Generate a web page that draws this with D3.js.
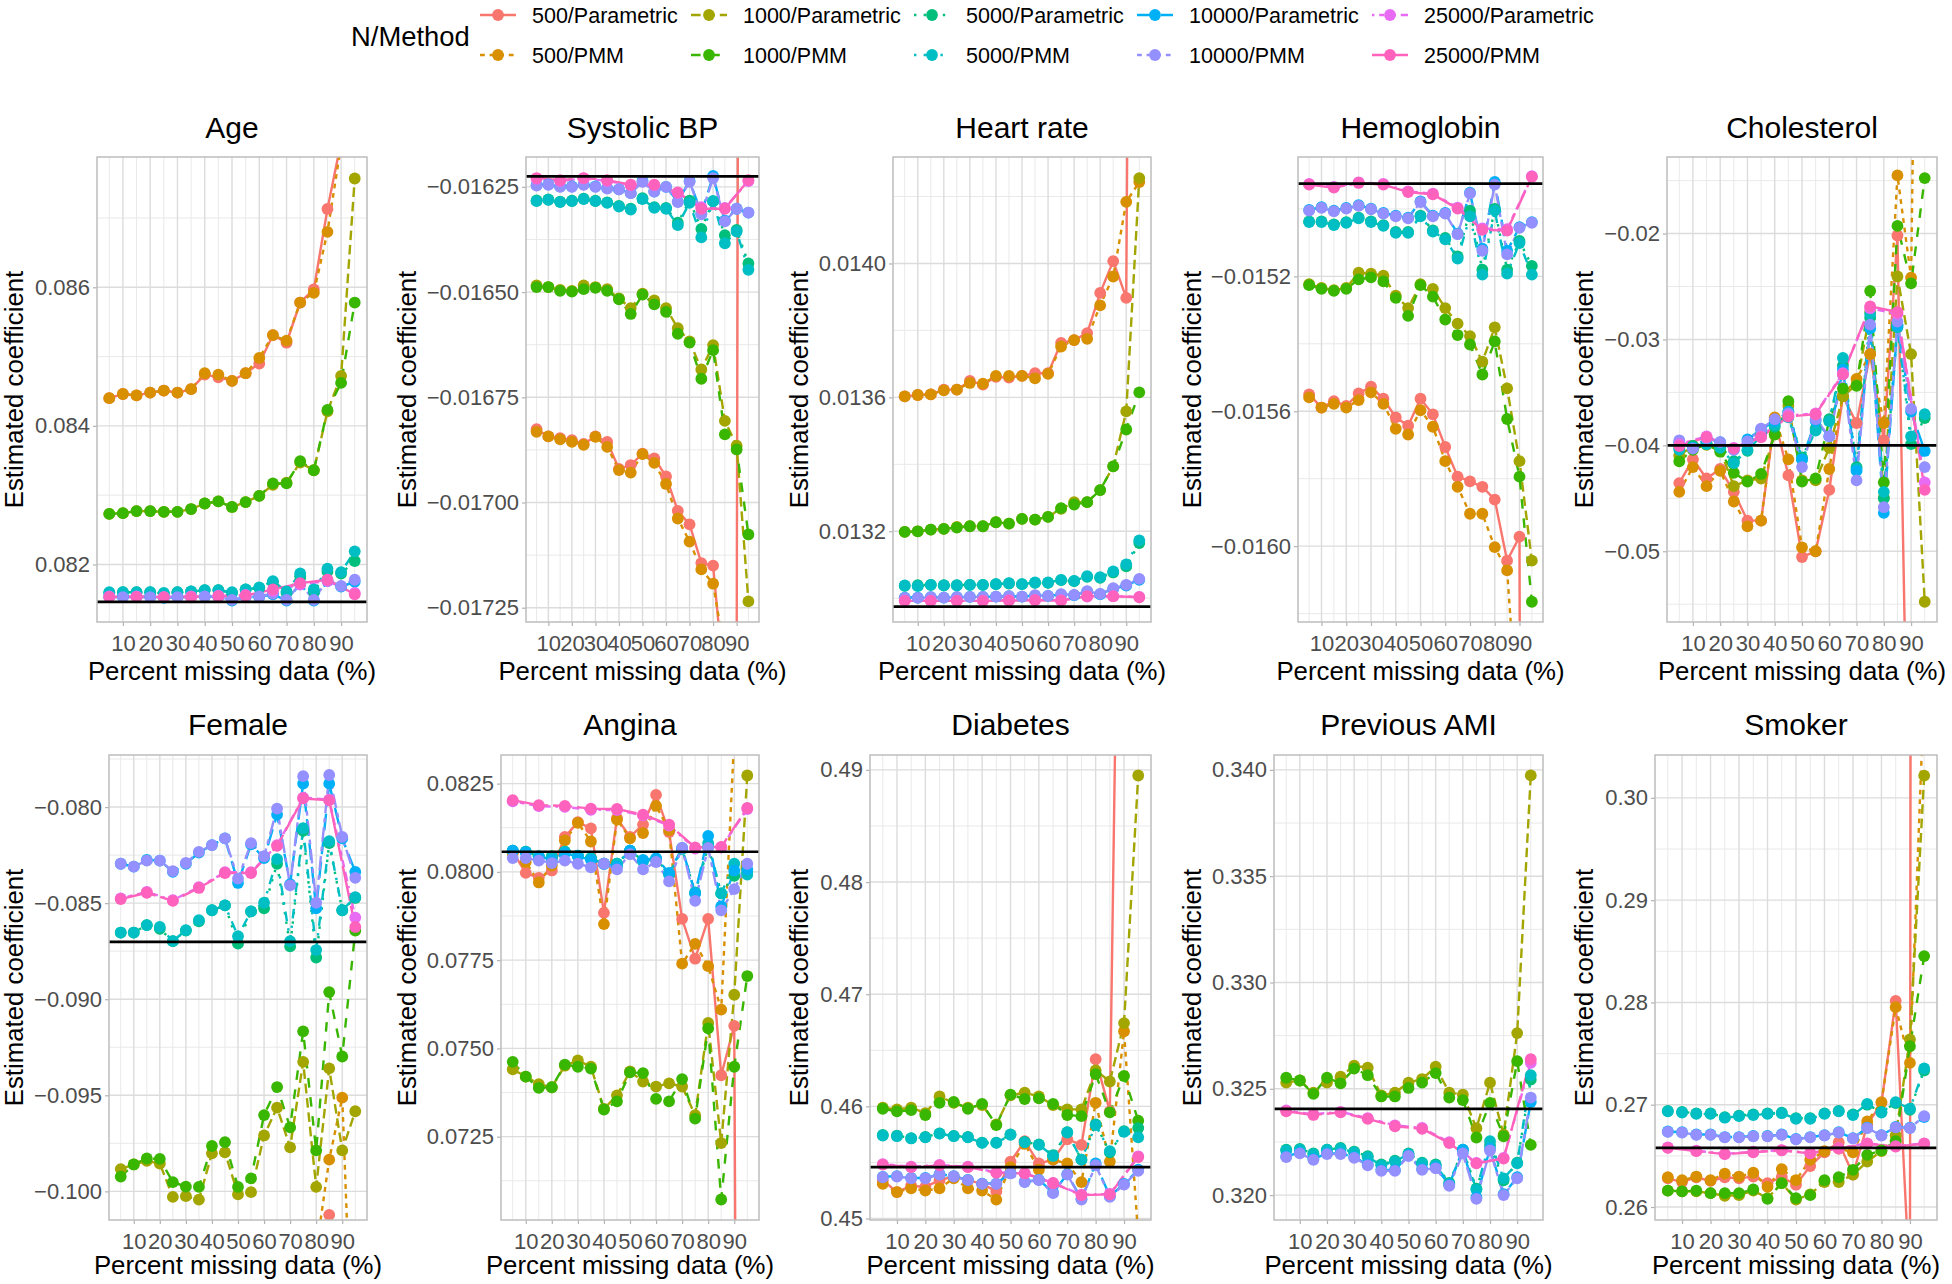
<!DOCTYPE html>
<html><head><meta charset="utf-8">
<script src="https://cdn.jsdelivr.net/npm/d3@7"></script>
<style>body{margin:0;background:#fff}svg{display:block}</style>
</head><body>
<svg id="c" width="1952" height="1284"></svg>
<script>
// ---------------- DATA ----------------
const xValues=[5,10,15,20,25,30,35,40,45,50,55,60,65,70,75,80,85,90,95];
const xTickValues=[10,20,30,40,50,60,70,80,90];
const seriesNames=["500/Parametric","500/PMM","1000/Parametric","1000/PMM","5000/Parametric","5000/PMM","10000/Parametric","10000/PMM","25000/Parametric","25000/PMM"];
const seriesColors=["#F8766D","#D89000","#A3A500","#39B600","#00BF7D","#00BFC4","#00B0F6","#9590FF","#E76BF3","#FF62BC"];
const panelTitles=["Age","Systolic BP","Heart rate","Hemoglobin","Cholesterol","Female","Angina","Diabetes","Previous AMI","Smoker"];
const refValues=[0.08146,-0.016225,0.012975,-0.014925,-0.040,-0.08702,0.08057,0.45458,0.32406,0.26579];
const yLimits=[[0.08117,0.08788],[-0.017284,-0.016179],[0.012929,0.014318],[-0.016225,-0.014846],[-0.05668,-0.01277],
  [-0.10149,-0.07729],[0.07014,0.08331],[0.44987,0.49133],[0.31883,0.34070],[0.25873,0.30419]];
const yTicks=[[0.082,0.084,0.086],[-0.01725,-0.017,-0.01675,-0.0165,-0.01625],[0.0132,0.0136,0.014],[-0.016,-0.0156,-0.0152],[-0.05,-0.04,-0.03,-0.02],
  [-0.1,-0.095,-0.09,-0.085,-0.08],[0.0725,0.075,0.0775,0.08,0.0825],[0.45,0.46,0.47,0.48,0.49],[0.32,0.325,0.33,0.335,0.34],[0.26,0.27,0.28,0.29,0.30]];
const yTickFormats=[".3f",".5f",".4f",".4f",".2f",".3f",".4f",".2f",".3f",".2f"];

const age=[
[0.08440,0.08446,0.08444,0.08448,0.08451,0.08448,0.08453,0.08474,0.08470,0.08465,0.08476,0.08490,0.08531,0.08520,0.08578,0.08597,0.08713,0.08810,0.09050],
[0.08440,0.08446,0.08444,0.08448,0.08451,0.08448,0.08453,0.08476,0.08474,0.08465,0.08476,0.08498,0.08531,0.08523,0.08578,0.08592,0.08680,0.08805,0.09200],
[0.08273,0.08274,0.08277,0.08277,0.08276,0.08276,0.08280,0.08288,0.08291,0.08283,0.08290,0.08299,0.08315,0.08318,0.08347,0.08336,0.08421,0.08472,0.08757],
[0.08273,0.08274,0.08277,0.08277,0.08276,0.08276,0.08280,0.08288,0.08291,0.08283,0.08290,0.08299,0.08317,0.08317,0.08349,0.08336,0.08423,0.08462,0.08578],
[0.08159,0.08160,0.08160,0.08160,0.08158,0.08160,0.08161,0.08163,0.08163,0.08159,0.08164,0.08166,0.08174,0.08159,0.08183,0.08161,0.08190,0.08187,0.08205],
[0.08160,0.08160,0.08160,0.08160,0.08159,0.08160,0.08161,0.08163,0.08163,0.08160,0.08164,0.08167,0.08176,0.08161,0.08187,0.08164,0.08194,0.08189,0.08219],
[0.08153,0.08153,0.08153,0.08153,0.08152,0.08153,0.08153,0.08154,0.08153,0.08148,0.08153,0.08153,0.08157,0.08148,0.08172,0.08148,0.08176,0.08168,0.08175],
[0.08153,0.08153,0.08153,0.08153,0.08153,0.08153,0.08153,0.08154,0.08153,0.08149,0.08153,0.08154,0.08158,0.08149,0.08172,0.08149,0.08178,0.08169,0.08178],
[0.08154,null,0.08154,null,0.08153,null,0.08154,null,0.08155,null,0.08156,null,0.08162,null,0.08171,null,0.08176,null,0.08159],
[0.08153,null,0.08153,null,0.08153,null,0.08153,null,0.08154,null,0.08155,null,0.08164,null,0.08173,null,0.08178,null,0.08157]];

const sbp=[
[-0.016826,-0.016843,-0.016847,-0.016852,-0.016861,-0.016843,-0.016856,-0.016920,-0.016911,-0.016884,-0.016895,-0.016938,-0.017020,-0.017052,-0.017144,-0.017150,-0.017450,-0.017400,-0.005000],
[-0.016832,-0.016843,-0.016850,-0.016856,-0.016863,-0.016844,-0.016868,-0.016923,-0.016929,-0.016885,-0.016906,-0.016956,-0.017038,-0.017093,-0.017159,-0.017193,-0.017360,-0.017600,-0.018000],
[-0.016484,-0.016488,-0.016495,-0.016497,-0.016484,-0.016488,-0.016493,-0.016515,-0.016538,-0.016504,-0.016520,-0.016538,-0.016586,-0.016617,-0.016684,-0.016626,-0.016806,-0.016865,-0.017235],
[-0.016488,-0.016488,-0.016497,-0.016499,-0.016493,-0.016490,-0.016497,-0.016517,-0.016552,-0.016506,-0.016529,-0.016547,-0.016599,-0.016620,-0.016706,-0.016638,-0.016838,-0.016874,-0.017076],
[-0.016282,-0.016280,-0.016285,-0.016283,-0.016278,-0.016283,-0.016287,-0.016295,-0.016302,-0.016277,-0.016298,-0.016300,-0.016335,-0.016283,-0.016350,-0.016284,-0.016365,-0.016352,-0.016432],
[-0.016284,-0.016281,-0.016286,-0.016284,-0.016279,-0.016284,-0.016288,-0.016297,-0.016304,-0.016279,-0.016300,-0.016302,-0.016341,-0.016288,-0.016370,-0.016284,-0.016384,-0.016356,-0.016447],
[-0.016246,-0.016244,-0.016249,-0.016249,-0.016244,-0.016249,-0.016253,-0.016256,-0.016265,-0.016236,-0.016261,-0.016250,-0.016285,-0.016236,-0.016313,-0.016224,-0.016330,-0.016302,-0.016311],
[-0.016247,-0.016245,-0.016250,-0.016250,-0.016245,-0.016250,-0.016254,-0.016256,-0.016265,-0.016238,-0.016261,-0.016250,-0.016286,-0.016238,-0.016315,-0.016229,-0.016332,-0.016302,-0.016311],
[-0.016231,null,-0.016236,null,-0.016230,null,-0.016236,null,-0.016246,null,-0.016246,null,-0.016265,null,-0.016298,null,-0.016300,null,-0.016236],
[-0.016229,null,-0.016234,null,-0.016229,null,-0.016234,null,-0.016245,null,-0.016245,null,-0.016263,null,-0.016302,null,-0.016302,null,-0.016234]];

const hr=[
[0.013603,0.013607,0.013609,0.013623,0.013623,0.013649,0.013638,0.013661,0.013659,0.013664,0.013672,0.013672,0.013763,0.013771,0.013792,0.013912,0.014007,0.013897,0.020000],
[0.013603,0.013607,0.013609,0.013621,0.013623,0.013643,0.013641,0.013664,0.013664,0.013664,0.013657,0.013670,0.013752,0.013771,0.013775,0.013875,0.013961,0.014184,0.014243],
[0.013198,0.013200,0.013205,0.013207,0.013213,0.013215,0.013215,0.013227,0.013223,0.013237,0.013235,0.013243,0.013267,0.013287,0.013287,0.013323,0.013394,0.013558,0.014255],
[0.013198,0.013200,0.013205,0.013207,0.013211,0.013215,0.013215,0.013227,0.013223,0.013237,0.013235,0.013243,0.013269,0.013280,0.013287,0.013323,0.013394,0.013504,0.013615],
[0.013037,0.013039,0.013040,0.013039,0.013039,0.013040,0.013040,0.013042,0.013044,0.013042,0.013046,0.013046,0.013054,0.013051,0.013064,0.013061,0.013077,0.013095,0.013165],
[0.013038,0.013036,0.013040,0.013038,0.013038,0.013040,0.013040,0.013042,0.013045,0.013042,0.013047,0.013047,0.013055,0.013052,0.013066,0.013063,0.013080,0.013101,0.013173],
[0.013002,0.013002,0.013003,0.013002,0.013003,0.013004,0.013004,0.013005,0.013006,0.013005,0.013008,0.013007,0.013011,0.013009,0.013020,0.013012,0.013028,0.013038,0.013055],
[0.013001,0.013001,0.013003,0.013002,0.013003,0.013004,0.013004,0.013005,0.013006,0.013005,0.013009,0.013007,0.013012,0.013010,0.013021,0.013013,0.013030,0.013040,0.013058],
[0.012993,null,0.012993,null,0.012993,null,0.012993,null,0.012994,null,0.012995,null,0.012994,null,0.013005,null,0.013006,null,0.013004],
[0.012992,null,0.012992,null,0.012992,null,0.012992,null,0.012993,null,0.012994,null,0.012993,null,0.013006,null,0.013006,null,0.013003]];

const hgb=[
[-0.015550,-0.015589,-0.015570,-0.015584,-0.015547,-0.015527,-0.015563,-0.015618,-0.015643,-0.015563,-0.015609,-0.015706,-0.015794,-0.015808,-0.015824,-0.015862,-0.016043,-0.015972,-0.030000],
[-0.015559,-0.015589,-0.015578,-0.015589,-0.015567,-0.015544,-0.015578,-0.015652,-0.015669,-0.015597,-0.015646,-0.015748,-0.015824,-0.015904,-0.015904,-0.016003,-0.016072,-0.016600,-0.017000],
[-0.015223,-0.015234,-0.015241,-0.015234,-0.015189,-0.015192,-0.015198,-0.015257,-0.015294,-0.015223,-0.015237,-0.015294,-0.015340,-0.015377,-0.015453,-0.015351,-0.015532,-0.015748,-0.016043],
[-0.015226,-0.015237,-0.015243,-0.015237,-0.015209,-0.015203,-0.015215,-0.015264,-0.015317,-0.015226,-0.015260,-0.015328,-0.015374,-0.015402,-0.015491,-0.015393,-0.015623,-0.015794,-0.016165],
[-0.015037,-0.015037,-0.015046,-0.015039,-0.015026,-0.015037,-0.015048,-0.015068,-0.015068,-0.015020,-0.015064,-0.015086,-0.015141,-0.015005,-0.015180,-0.015000,-0.015180,-0.015095,-0.015169],
[-0.015039,-0.015039,-0.015048,-0.015041,-0.015028,-0.015039,-0.015050,-0.015071,-0.015071,-0.015022,-0.015067,-0.015090,-0.015147,-0.015022,-0.015195,-0.015005,-0.015192,-0.015101,-0.015195],
[-0.015003,-0.014995,-0.015005,-0.014997,-0.014989,-0.014999,-0.015012,-0.015020,-0.015026,-0.014978,-0.015020,-0.015012,-0.015073,-0.014952,-0.015118,-0.014920,-0.015124,-0.015054,-0.015039],
[-0.015005,-0.014997,-0.015007,-0.014999,-0.014991,-0.015001,-0.015014,-0.015022,-0.015028,-0.014980,-0.015022,-0.015014,-0.015075,-0.014954,-0.015124,-0.014928,-0.015135,-0.015056,-0.015041],
[-0.014926,null,-0.014935,null,-0.014921,null,-0.014926,null,-0.014948,null,-0.014955,null,-0.014996,null,-0.015058,null,-0.015060,null,-0.014903],
[-0.014928,null,-0.014937,null,-0.014923,null,-0.014928,null,-0.014950,null,-0.014957,null,-0.014999,null,-0.015062,null,-0.015064,null,-0.014905]];

const chol=[
[-0.04356,-0.04132,-0.04313,-0.04223,-0.04439,-0.04711,-0.04711,-0.03753,-0.04284,-0.05054,-0.05000,-0.04421,-0.03536,-0.03789,-0.03138,-0.03950,-0.02018,-0.09000,-0.10000],
[-0.04439,-0.04205,-0.04385,-0.04241,-0.04530,-0.04765,-0.04711,-0.03735,-0.04132,-0.04963,-0.05000,-0.04223,-0.03536,-0.03373,-0.03138,-0.03789,-0.01451,-0.02416,0.07000],
[-0.04096,-0.04006,-0.03995,-0.04042,-0.04385,-0.04331,-0.04313,-0.03897,-0.03626,-0.04331,-0.04331,-0.04024,-0.03536,-0.03428,-0.02741,-0.04494,-0.02405,-0.03138,-0.05477],
[-0.04150,-0.04042,-0.03988,-0.04060,-0.04259,-0.04342,-0.04270,-0.03897,-0.03583,-0.04342,-0.04313,-0.03764,-0.03464,-0.03438,-0.02542,-0.04349,-0.01928,-0.02470,-0.01476],
[-0.04024,-0.04006,-0.03988,-0.04006,-0.04150,-0.04052,-0.03897,-0.03825,-0.03681,-0.04114,-0.03843,-0.03753,-0.03247,-0.04205,-0.02795,-0.04500,-0.02860,-0.03988,-0.03742],
[-0.04042,-0.04024,-0.03988,-0.04024,-0.04168,-0.04042,-0.03915,-0.03807,-0.03735,-0.04132,-0.03861,-0.03771,-0.03175,-0.04223,-0.02759,-0.04439,-0.02885,-0.03915,-0.03706],
[-0.03970,-0.04024,-0.03933,-0.03970,-0.04042,-0.03944,-0.03850,-0.03771,-0.03681,-0.04132,-0.03771,-0.03915,-0.03283,-0.04241,-0.02896,-0.04638,-0.02867,-0.03681,-0.04053],
[-0.03952,-0.04031,-0.03933,-0.03970,-0.04042,-0.03962,-0.03843,-0.03753,-0.03699,-0.04205,-0.03753,-0.03915,-0.03330,-0.04331,-0.02860,-0.04584,-0.02831,-0.03655,-0.04205],
[-0.03988,null,-0.03915,null,-0.04024,null,-0.03915,null,-0.03717,null,-0.03699,null,-0.03319,null,-0.02705,null,-0.02759,null,-0.04349],
[-0.04006,null,-0.03923,null,-0.04031,null,-0.03923,null,-0.03728,null,-0.03706,null,-0.03330,null,-0.02687,null,-0.02741,null,-0.04421]];

const female=[
[-0.1080,-0.1075,-0.1082,-0.1085,-0.1078,-0.1090,-0.1088,-0.1070,-0.1072,-0.1095,-0.1085,-0.1065,-0.1060,-0.1068,-0.1050,-0.1040,-0.10122,-0.1035,-0.1060],
[-0.1078,-0.1072,-0.1080,-0.1083,-0.1076,-0.1088,-0.1085,-0.1068,-0.1070,-0.1092,-0.1082,-0.1062,-0.1058,-0.1065,-0.1048,-0.1031,-0.09835,-0.09512,-0.1130],
[-0.09884,-0.09860,-0.09841,-0.09855,-0.10029,-0.10025,-0.10043,-0.09802,-0.09797,-0.10016,-0.10004,-0.09709,-0.09564,-0.09771,-0.09326,-0.09977,-0.09360,-0.09787,-0.09583],
[-0.09923,-0.09860,-0.09829,-0.09831,-0.09952,-0.09975,-0.09977,-0.09764,-0.09744,-0.09977,-0.09932,-0.09603,-0.09457,-0.09667,-0.09167,-0.09787,-0.08963,-0.09298,-0.08643],
[-0.08653,-0.08653,-0.08614,-0.08634,-0.08698,-0.08643,-0.08595,-0.08537,-0.08512,-0.08711,-0.08543,-0.08527,-0.08295,-0.08725,-0.08124,-0.08783,-0.08188,-0.08537,-0.08473],
[-0.08653,-0.08653,-0.08614,-0.08624,-0.08698,-0.08640,-0.08589,-0.08537,-0.08512,-0.08672,-0.08543,-0.08498,-0.08271,-0.08698,-0.08110,-0.08744,-0.08178,-0.08537,-0.08469],
[-0.08295,-0.08310,-0.08275,-0.08279,-0.08337,-0.08295,-0.08237,-0.08198,-0.08163,-0.08395,-0.08194,-0.08266,-0.08039,-0.08401,-0.07878,-0.08527,-0.07878,-0.08163,-0.08337],
[-0.08295,-0.08310,-0.08279,-0.08279,-0.08333,-0.08291,-0.08233,-0.08198,-0.08163,-0.08372,-0.08188,-0.08256,-0.08008,-0.08407,-0.07839,-0.08498,-0.07833,-0.08155,-0.08368],
[-0.08475,null,-0.08442,null,-0.08484,null,-0.08417,null,-0.08339,null,-0.08339,null,-0.08198,null,-0.07951,null,-0.07961,null,-0.08575],
[-0.08479,null,-0.08446,null,-0.08488,null,-0.08421,null,-0.08343,null,-0.08343,null,-0.08202,null,-0.07955,null,-0.07965,null,-0.08624]];

const angina=[
[0.08057,0.07997,0.07983,0.08004,0.08099,0.08141,0.08123,0.07884,0.08152,0.08099,0.08134,0.08218,0.08113,0.07867,0.07754,0.07867,0.07424,0.07564,0.00000],
[0.08053,0.08028,0.07970,0.08018,0.08089,0.08139,0.08086,0.07852,0.08148,0.08095,0.08110,0.08187,0.08118,0.07740,0.07796,0.07733,0.07610,0.08380,0.09000],
[0.07441,0.07420,0.07399,0.07390,0.07451,0.07466,0.07448,0.07329,0.07367,0.07435,0.07406,0.07392,0.07401,0.07392,0.07311,0.07572,0.07232,0.07652,0.08273],
[0.07462,0.07420,0.07388,0.07390,0.07454,0.07448,0.07443,0.07327,0.07350,0.07432,0.07430,0.07357,0.07350,0.07413,0.07301,0.07557,0.07072,0.07448,0.07705],
[0.08060,0.08057,0.08044,0.08044,0.08057,0.08046,0.08039,0.08023,0.08023,0.08060,0.08032,0.08037,0.07994,0.08065,0.07941,0.08071,0.07939,0.07989,0.08000],
[0.08060,0.08057,0.08044,0.08044,0.08057,0.08046,0.08039,0.08023,0.08023,0.08060,0.08030,0.08035,0.07992,0.08065,0.07941,0.08081,0.07939,0.08023,0.07992],
[0.08060,0.08055,0.08044,0.08034,0.08053,0.08044,0.08034,0.08023,0.08015,0.08060,0.08034,0.08039,0.07997,0.08068,0.07939,0.08102,0.07902,0.08004,0.08007],
[0.08039,0.08039,0.08032,0.08025,0.08032,0.08023,0.08013,0.08023,0.08007,0.08050,0.08007,0.08028,0.07973,0.08068,0.07918,0.08068,0.07891,0.07951,0.08023],
[0.08200,null,0.08186,null,0.08184,null,0.08176,null,0.08175,null,0.08160,null,0.08131,null,0.08066,null,0.08069,null,0.08178],
[0.08203,null,0.08189,null,0.08187,null,0.08179,null,0.08178,null,0.08162,null,0.08134,null,0.08069,null,0.08071,null,0.08181]];

const diabetes=[
[0.45342,0.45236,0.45292,0.45282,0.45342,0.45375,0.45342,0.45309,0.45242,0.45508,0.45690,0.45491,0.45525,0.45707,0.45657,0.46421,0.45956,0.54800,0.60000],
[0.45309,0.45236,0.45269,0.45249,0.45269,0.45359,0.45269,0.45249,0.45169,0.45458,0.45667,0.45435,0.45525,0.45491,0.45325,0.46032,0.45508,0.46670,0.44840],
[0.45989,0.45973,0.45989,0.45940,0.46089,0.46032,0.45989,0.46012,0.45840,0.46099,0.46122,0.46089,0.46012,0.45973,0.45973,0.46321,0.46222,0.46743,0.48950],
[0.45979,0.45956,0.45966,0.45923,0.46032,0.46039,0.45979,0.46022,0.45833,0.46105,0.46066,0.46072,0.46022,0.45923,0.45913,0.46288,0.45946,0.46271,0.45873],
[0.45745,0.45740,0.45717,0.45727,0.45760,0.45737,0.45727,0.45677,0.45677,0.45750,0.45683,0.45660,0.45565,0.45770,0.45525,0.45840,0.45591,0.45780,0.45807],
[0.45740,0.45734,0.45714,0.45724,0.45757,0.45734,0.45724,0.45674,0.45674,0.45747,0.45680,0.45657,0.45558,0.45767,0.45525,0.45833,0.45601,0.45773,0.45724],
[0.45372,0.45378,0.45362,0.45362,0.45395,0.45378,0.45345,0.45312,0.45312,0.45405,0.45328,0.45345,0.45232,0.45395,0.45175,0.45491,0.45199,0.45309,0.45435],
[0.45368,0.45375,0.45359,0.45359,0.45392,0.45375,0.45342,0.45309,0.45309,0.45402,0.45325,0.45342,0.45226,0.45392,0.45169,0.45475,0.45193,0.45302,0.45425],
[0.45485,null,0.45462,null,0.45478,null,0.45462,null,0.45412,null,0.45405,null,0.45318,null,0.45212,null,0.45219,null,0.45555],
[0.45481,null,0.45458,null,0.45474,null,0.45458,null,0.45408,null,0.45402,null,0.45315,null,0.45209,null,0.45216,null,0.45548]];

const prevAmi=[
[0.3455,0.3460,0.3452,0.3458,0.3462,0.3450,0.3456,0.3465,0.3470,0.3458,0.3462,0.3475,0.3480,0.3490,0.3500,0.3510,0.3530,0.3550,0.3600],
[0.3450,0.3455,0.3448,0.3452,0.3458,0.3446,0.3452,0.3460,0.3466,0.3454,0.3458,0.3470,0.3476,0.3486,0.3495,0.3505,0.3525,0.3545,0.3580],
[0.32529,0.32539,0.32482,0.32529,0.32557,0.32609,0.32599,0.32469,0.32482,0.32529,0.32546,0.32604,0.32482,0.32473,0.32315,0.32529,0.32284,0.32762,0.33974],
[0.32552,0.32539,0.32476,0.32552,0.32526,0.32595,0.32564,0.32464,0.32464,0.32504,0.32529,0.32574,0.32459,0.32447,0.32271,0.32434,0.32277,0.32630,0.32236],
[0.32214,0.32217,0.32196,0.32214,0.32222,0.32205,0.32183,0.32144,0.32162,0.32196,0.32153,0.32144,0.32058,0.32214,0.32030,0.32236,0.32070,0.32153,0.32543],
[0.32210,0.32214,0.32193,0.32214,0.32219,0.32201,0.32179,0.32140,0.32158,0.32193,0.32149,0.32140,0.32053,0.32210,0.32026,0.32254,0.32079,0.32149,0.32564],
[0.32182,0.32200,0.32170,0.32196,0.32196,0.32179,0.32144,0.32118,0.32118,0.32188,0.32123,0.32130,0.32049,0.32214,0.31990,0.32218,0.32005,0.32084,0.32438],
[0.32179,0.32196,0.32166,0.32193,0.32193,0.32175,0.32140,0.32114,0.32114,0.32184,0.32119,0.32126,0.32044,0.32196,0.31982,0.32210,0.32000,0.32079,0.32459],
[0.32398,null,0.32380,null,0.32392,null,0.32362,null,0.32328,null,0.32316,null,0.32249,null,0.32152,null,0.32175,null,0.32622],
[0.32394,null,0.32377,null,0.32389,null,0.32359,null,0.32324,null,0.32312,null,0.32245,null,0.32149,null,0.32172,null,0.32639]];

const smoker=[
[0.26280,0.26244,0.26291,0.26255,0.26291,0.26280,0.26298,0.26233,0.26291,0.26218,0.26400,0.26535,0.26633,0.26317,0.26801,0.27019,0.28016,0.25200,1.50000],
[0.26291,0.26262,0.26298,0.26262,0.26327,0.26298,0.26335,0.26197,0.26371,0.26262,0.26462,0.26546,0.26571,0.26535,0.26837,0.27026,0.27954,0.27409,0.31070],
[0.26160,0.26153,0.26153,0.26135,0.26109,0.26116,0.26160,0.26087,0.26233,0.26073,0.26124,0.26244,0.26244,0.26317,0.26444,0.26546,0.26699,0.27638,0.30218],
[0.26160,0.26153,0.26160,0.26135,0.26135,0.26135,0.26171,0.26080,0.26233,0.26087,0.26116,0.26262,0.26291,0.26364,0.26510,0.26553,0.26644,0.27572,0.28453],
[0.26940,0.26930,0.26915,0.26915,0.26878,0.26893,0.26905,0.26915,0.26922,0.26868,0.26868,0.26915,0.26940,0.26905,0.27000,0.26930,0.27015,0.26950,0.27335],
[0.26935,0.26924,0.26910,0.26910,0.26873,0.26888,0.26899,0.26910,0.26917,0.26863,0.26863,0.26910,0.26935,0.26899,0.27008,0.26924,0.27026,0.26961,0.27354],
[0.26738,0.26731,0.26709,0.26709,0.26684,0.26684,0.26694,0.26694,0.26709,0.26665,0.26684,0.26702,0.26731,0.26673,0.26775,0.26702,0.26782,0.26775,0.26880],
[0.26735,0.26728,0.26706,0.26706,0.26681,0.26681,0.26691,0.26691,0.26706,0.26662,0.26681,0.26699,0.26728,0.26670,0.26772,0.26699,0.26779,0.26772,0.26888],
[0.26582,null,0.26550,null,0.26520,null,0.26540,null,0.26557,null,0.26528,null,0.26575,null,0.26622,null,0.26594,null,0.26622],
[0.26579,null,0.26546,null,0.26517,null,0.26535,null,0.26553,null,0.26524,null,0.26571,null,0.26619,null,0.26590,null,0.26619]];

const panelData=[age,sbp,hr,hgb,chol,female,angina,diabetes,prevAmi,smoker];

// ---------------- LAYOUT / STYLE ----------------
const FONT='"Liberation Sans", Arial, Helvetica, sans-serif';
const LW=2.4;
const dashes=[null,"4.8,4.8","9.6,4.8","9.6,9.6","2.4,7.2","2.4,7.2,9.6,7.2","16.8,7.2","4.8,4.8,14.4,4.8","2.4,4.8,4.8,4.8,7.2,4.8,9.6,4.8","36,4.8,19.2,4.8"];
const layout=[
 {x0:97,x1:367,row:0},{x0:526,x1:759,row:0},{x0:893,x1:1151,row:0},{x0:1298,x1:1543,row:0},{x0:1667,x1:1937,row:0},
 {x0:109,x1:367,row:1},{x0:501,x1:759,row:1},{x0:870,x1:1151,row:1},{x0:1274,x1:1543,row:1},{x0:1655,x1:1937,row:1}];
const rows=[{y0:157,y1:622,title:137.5,axt:680},{y0:755,y1:1220,title:734.5,axt:1274}];
const colLeft=[0,393,785,1178,1570];
const xDomain=[0.5,99.5];
const PR=5.9;
const TICKFS=22;

const svg=d3.select('#c');
svg.append('rect').attr('width',1952).attr('height',1284).attr('fill','#fff');
const defs=svg.append('defs');

function txt(parent,x,y,str,size,anchor,fill){
  return parent.append('text').attr('x',x).attr('y',y)
    .attr('text-anchor',anchor).attr('font-size',size).attr('font-family',FONT).attr('fill',fill).text(str);
}

panelData.forEach((data,i)=>{
  const L=layout[i], R=rows[L.row], col=i%5;
  const x=d3.scaleLinear().domain(xDomain).range([L.x0,L.x1]);
  const y=d3.scaleLinear().domain(yLimits[i]).range([R.y1,R.y0]);
  const g=svg.append('g');
  const cid='clip'+i;
  defs.append('clipPath').attr('id',cid).append('rect')
    .attr('x',L.x0).attr('y',R.y0).attr('width',L.x1-L.x0).attr('height',R.y1-R.y0);

  // grid
  const tks=yTicks[i], step=tks[1]-tks[0];
  const yMinor=[];
  for(let k=-1;k<tks.length;k++){const v=tks[0]+(k+0.5)*step; if(v>yLimits[i][0]&&v<yLimits[i][1]) yMinor.push(v);}
  const xMinor=[5,15,25,35,45,55,65,75,85,95];
  const grid=g.append('g');
  yMinor.forEach(v=>grid.append('line').attr('x1',L.x0).attr('x2',L.x1).attr('y1',y(v)).attr('y2',y(v)).attr('stroke','#E6E6E6').attr('stroke-width',0.9));
  xMinor.forEach(v=>grid.append('line').attr('y1',R.y0).attr('y2',R.y1).attr('x1',x(v)).attr('x2',x(v)).attr('stroke','#E6E6E6').attr('stroke-width',0.9));
  tks.forEach(v=>grid.append('line').attr('x1',L.x0).attr('x2',L.x1).attr('y1',y(v)).attr('y2',y(v)).attr('stroke','#DCDCDC').attr('stroke-width',1.4));
  xTickValues.forEach(v=>grid.append('line').attr('y1',R.y0).attr('y2',R.y1).attr('x1',x(v)).attr('x2',x(v)).attr('stroke','#DCDCDC').attr('stroke-width',1.4));

  // axes
  const ay=d3.axisLeft(y).tickValues(tks).tickFormat(d3.format(yTickFormats[i])).tickSize(4).tickPadding(3);
  const gy=g.append('g').attr('transform',`translate(${L.x0},0)`).call(ay);
  gy.select('.domain').remove();
  gy.selectAll('line').attr('stroke','#B3B3B3').attr('stroke-width',1.2);
  gy.selectAll('text').attr('font-size',TICKFS).attr('font-family',FONT).attr('fill','#4D4D4D');
  const ax=d3.axisBottom(x).tickValues(xTickValues).tickFormat(d3.format('d')).tickSize(4).tickPadding(9);
  const gx=g.append('g').attr('transform',`translate(0,${R.y1})`).call(ax);
  gx.select('.domain').remove();
  gx.selectAll('line').attr('stroke','#B3B3B3').attr('stroke-width',1.2);
  gx.selectAll('text').attr('font-size',TICKFS).attr('font-family',FONT).attr('fill','#4D4D4D');

  // series
  const plot=g.append('g').attr('clip-path',`url(#${cid})`);
  const lineGen=d3.line().x(d=>x(d[0])).y(d=>y(d[1]));
  data.forEach((vals,s)=>{
    const pts=xValues.map((xv,j)=>[xv,vals[j]]).filter(d=>d[1]!==null);
    const p=plot.append('path').attr('d',lineGen(pts)).attr('fill','none')
      .attr('stroke',seriesColors[s]).attr('stroke-width',LW);
    if(dashes[s]) p.attr('stroke-dasharray',dashes[s]);
  });
  data.forEach((vals,s)=>{
    const pts=xValues.map((xv,j)=>[xv,vals[j]]).filter(d=>d[1]!==null);
    plot.selectAll(null).data(pts).enter().append('circle')
      .attr('cx',d=>x(d[0])).attr('cy',d=>y(d[1])).attr('r',PR)
      .attr('fill',seriesColors[s]);
  });
  plot.append('line').attr('x1',L.x0).attr('x2',L.x1).attr('y1',y(refValues[i])).attr('y2',y(refValues[i]))
    .attr('stroke','#000').attr('stroke-width',2.7);

  // border
  g.append('rect').attr('x',L.x0).attr('y',R.y0).attr('width',L.x1-L.x0).attr('height',R.y1-R.y0)
    .attr('fill','none').attr('stroke','#BDBDBD').attr('stroke-width',1.5);

  // titles
  const cx=(L.x0+L.x1)/2;
  txt(g,cx,R.title,panelTitles[i],30,'middle','#000');
  txt(g,cx,R.axt,'Percent missing data (%)',25.8,'middle','#000');
  g.append('text').attr('transform',`translate(${colLeft[col]+23},${(R.y0+R.y1)/2}) rotate(-90)`)
    .attr('text-anchor','middle').attr('font-size',25.8).attr('font-family',FONT).attr('fill','#000')
    .text('Estimated coefficient');
});

// legend
const leg=svg.append('g');
txt(leg,351,46,'N/Method',27.4,'start','#000');
const keyCenters=[498,709,932,1155,1390];
const rowY=[15,55];
seriesNames.forEach((name,s)=>{
  const c=Math.floor(s/2), r=s%2;
  const kx=keyCenters[c], ky=rowY[r];
  const l=leg.append('line').attr('x1',kx-18).attr('x2',kx+18).attr('y1',ky).attr('y2',ky)
    .attr('stroke',seriesColors[s]).attr('stroke-width',LW);
  if(dashes[s]) l.attr('stroke-dasharray',dashes[s]);
  leg.append('circle').attr('cx',kx).attr('cy',ky).attr('r',PR).attr('fill',seriesColors[s]);
  txt(leg,kx+34,ky+7.7,name,21.5,'start','#000');
});
</script>
</body></html>
